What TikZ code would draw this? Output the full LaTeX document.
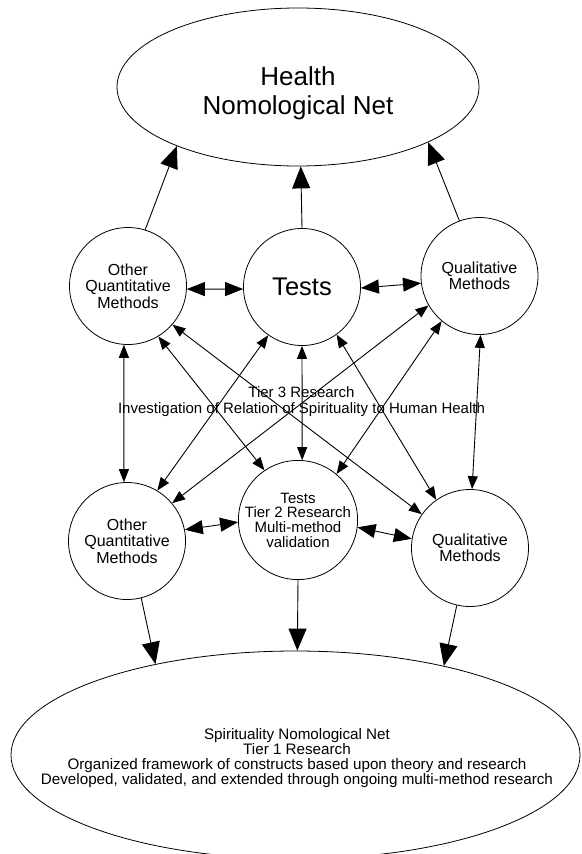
\documentclass[tikz,border=0pt]{standalone}
\usepackage{fontspec}
\setmainfont{Liberation Sans}
\usetikzlibrary{arrows.meta,shapes.geometric}
\begin{document}
\begin{tikzpicture}[x=1pt,y=-1pt,
  circ/.style={circle,draw,line width=0.8pt,minimum size=117pt,inner sep=0pt,align=center,font=\fontsize{16}{16.3}\selectfont},
  ell/.style={ellipse,draw,line width=0.8pt,inner sep=0pt},
  lbl/.style={align=center,inner sep=0pt},
  link/.style={line width=0.9pt},
  toell/.style={link,-{Triangle[length=22pt,width=18pt]}},
  wide/.style={link,{Triangle[length=18pt,width=14pt]}-{Triangle[length=18pt,width=14pt]}},
  cross/.style={link,{Triangle[length=13pt,width=10pt]}-{Triangle[length=13pt,width=10pt]}}]
\useasboundingbox (0,0) rectangle (581,854);

% ellipses
\node[ell,minimum width=362pt,minimum height=158pt] (health) at (298,87) {};
\node[lbl,font=\fontsize{26}{29}\selectfont] (healthtxt) at (298,93) {Health\\Nomological Net};
\node[ell,minimum width=569pt,minimum height=208pt] (spirit) at (295.5,755) {};
\node[lbl,font=\fontsize{15.2}{15}\selectfont] (spirittxt) at (297,758) {Spirituality Nomological Net\\Tier 1 Research\\Organized framework of constructs based upon theory and research\\Developed, validated, and extended through ongoing multi-method research};

% top circles
\node[circ] (oqt) at (128,286) {Other\\Quantitative\\Methods};
\node[circ,font=\fontsize{25.5}{25.5}\selectfont] (tt) at (302,287) {Tests};
\node[circ] (qt) at (479.5,276) {Qualitative\\Methods};

% bottom circles
\node[circ] (oqb) at (127,541) {Other\\Quantitative\\Methods};
\node[circ,font=\fontsize{15}{14.7}\selectfont] (tb) at (298,520) {Tests\\Tier 2 Research\\Multi-method\\validation};
\node[circ] (qb) at (470,548) {Qualitative\\Methods};

% middle label
\node[lbl,font=\fontsize{15}{16}\selectfont] (tier3) at (301.5,402) {Tier 3 Research\\Investigation of Relation of Spirituality to Human Health};

% to health
\draw[toell] (oqt.73) -- (health.206);
\draw[toell] (tt.90) -- (health.272);
\draw[toell] (qt.110) -- (health.337);

% horizontal links
\draw[wide] (oqt.-3) -- (tt.182);
\draw[wide] (tt.-1) -- (qt.187);
\draw[wide] (oqb.11) -- (tb.182);
\draw[wide] (tb.353) -- (qb.171);

% cross links
\draw[cross] (oqt.266) -- (oqb.93);
\draw[cross] (oqt.301) -- (tb.124);
\draw[cross] (oqt.319) -- (qb.145);
\draw[cross] (tt.235) -- (oqb.59);
\draw[cross] (tt.270) -- (tb.86);
\draw[cross] (tt.306) -- (qb.125);
\draw[cross] (qt.210) -- (oqb.40);
\draw[cross] (qt.230) -- (tb.50);
\draw[cross] (qt.271) -- (qb.88);

% to spirituality
\draw[toell] (oqb.284) -- (spirit.147);
\draw[toell] (tb.270) -- (spirit.89);
\draw[toell] (qb.257) -- (spirit.31);
\end{tikzpicture}
\end{document}
